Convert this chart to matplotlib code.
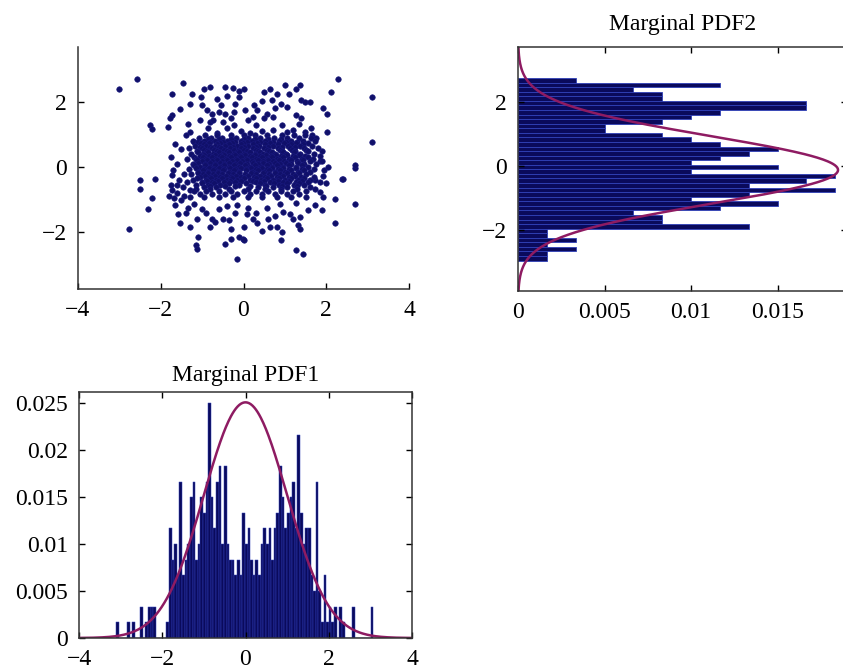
import numpy as np
import matplotlib
matplotlib.use("Agg")
import matplotlib.pyplot as plt
from matplotlib.ticker import FuncFormatter

# ---- scatter: points ----
outer_xy = [
    (-3.0, 2.42), (-2.58, 2.70), (-1.47, 2.59), (-1.73, 2.25), (-1.25, 2.25),
    (-1.03, 2.16), (-0.82, 2.46), (-0.44, 2.46), (-0.12, 2.35), (-0.64, 2.11),
    (-1.53, 1.80), (-1.29, 1.96), (-1.0, 1.91), (-0.89, 1.75), (-0.76, 1.65),
    (-0.6, 1.70), (-0.44, 1.65), (-0.24, 1.70), (-1.73, 1.60), (-1.77, 1.50),
    (-2.26, 1.29), (-2.2, 1.19), (-1.82, 1.24), (-1.33, 1.34), (-1.29, 1.09),
    (-1.2, 0.78), (-0.82, 1.39), (-0.74, 1.45), (-0.24, 1.29), (-0.64, 1.04),
    (2.29, 2.70), (3.10, 2.16), (2.11, 2.32), (1.0, 2.52), (1.36, 2.52),
    (1.28, 2.42), (0.5, 2.32), (0.8, 2.24), (1.11, 2.24), (0.68, 2.08),
    (1.40, 2.08), (1.48, 2.02), (0.76, 1.83), (1.04, 1.86), (1.91, 1.81),
    (2.03, 1.63), (0.04, 1.75), (0.32, 1.77), (0.24, 1.55), (0.56, 1.65),
    (0.72, 1.55), (1.28, 1.60), (1.40, 1.50), (1.35, 1.34), (1.49, 1.09),
    (0.92, 1.29), (0.72, 1.16), (1.04, 1.09), (2.01, 1.09), (3.10, 0.78),
    (0.16, 1.05), (1.2, 1.15), (1.62, 1.22), (2.69, -0.04),
    (-0.5, 1.4), (-0.3, 1.5), (0.1, 1.45), (0.3, 1.3), (0.45, 1.1),
    (-0.05, 1.1), (-0.4, 1.2), (-0.85, 1.2), (0.5, 1.5), (0.25, 1.9),
    (-0.2, 1.95), (-0.55, 1.9), (0.9, 1.95), (1.65, 1.0), (-1.05, 1.45),
    (-1.4, 1.0), (0.0, 2.4), (-0.1, 2.15), (0.45, 2.05), (1.6, 2.0),
    (-0.4, 2.2), (-0.95, 2.4), (-0.25, 2.45), (0.65, 2.4),
    (-2.5, -0.40), (-2.14, -0.37), (-2.5, -0.68), (-2.22, -0.96), (-2.30, -1.30),
    (-2.76, -1.91), (-1.73, -0.25), (-1.73, -0.71), (-1.68, -0.95), (-1.65, -1.17),
    (-1.58, -1.45), (-1.53, -1.73), (-1.29, -1.84), (-1.09, -2.14), (-1.15, -2.40),
    (-1.12, -2.52), (-0.16, -2.83), (-0.1, -2.14), (-0.02, -2.22), (-0.81, -1.84),
    (-0.77, -1.58), (-0.5, -1.58), (-0.36, -1.63), (-0.16, -1.17), (-1.12, -1.58),
    (-1.35, -1.27), (-1.2, -1.12), (-1.0, -1.3), (-1.45, -0.9), (-1.3, -0.7),
    (2.69, -1.12), (2.21, -0.98), (2.21, -1.73), (1.93, -0.91), (1.73, -0.66),
    (1.73, -0.40), (1.93, -0.27), (1.89, -1.32), (1.73, -1.17), (1.57, -1.32),
    (1.36, -1.53), (1.32, -1.78), (1.36, -1.89), (1.28, -2.55), (1.43, -2.66),
    (0.92, -1.99), (0.8, -1.84), (0.64, -1.84), (0.6, -1.58), (0.32, -1.73),
    (0.24, -1.58), (0.0, -1.84), (0.0, -2.25), (0.08, -1.45), (0.96, -1.37),
    (1.12, -1.45), (0.88, -1.12), (0.56, -1.25), (1.28, -1.1), (2.39, -0.37),
    (2.69, 0.06), (2.4, -0.35),
    (-1.75, 0.3), (-1.6, 0.1), (-1.7, -0.1), (-1.55, -0.4), (-1.75, -0.55),
    (-1.6, -0.8), (-1.5, 0.55), (-1.65, 0.7), (-1.45, -0.2), (-1.5, -1.0),
    (-1.8, -0.9), (-1.4, -1.4), (-0.6, -1.3), (-0.4, -1.2), (-0.2, -1.4),
    (0.1, -1.25), (0.3, -1.4), (-0.9, -1.4), (-0.7, -1.7), (0.45, -1.95),
    (-0.3, -1.9), (0.75, -1.5), (1.2, -1.6), (1.85, 0.2), (1.95, -0.1),
    (1.9, 0.5), (2.0, -0.5), (1.85, -0.75), (1.75, 0.9), (2.05, 0.0),
    (-0.45, -2.35), (-0.3, -2.2), (0.9, -2.25),
]

# dense centre, listed row by row: (y, [x, ...])
core_rows = [
    (0.98, [-0.92, -0.64, -0.31, 0.02, 0.27, 0.58, 0.93, 1.22, 1.48]),
    (0.90, [-1.08, -0.79, -0.52, -0.18, 0.12, 0.41, 0.73, 1.04, 1.33, 1.62]),
    (0.86, [-0.85, -0.6, -0.3, 0.0, 0.28, 0.6, 0.9]),
    (0.82, [-1.22, -0.95, -0.68, -0.41, -0.07, 0.21, 0.52, 0.86, 1.16, 1.44, 1.74]),
    (0.78, [-1.1, -0.8, -0.5, -0.2, 0.08, 0.4, 0.72, 1.02, 1.3]),
    (0.74, [-1.02, -0.83, -0.57, -0.29, -0.02, 0.33, 0.63, 0.97, 1.27, 1.56]),
    (0.70, [-0.95, -0.63, -0.35, -0.05, 0.22, 0.52, 0.84, 1.16, 1.45]),
    (0.66, [-1.17, -0.9, -0.7, -0.45, -0.16, 0.1, 0.38, 0.71, 1.07, 1.36, 1.66]),
    (0.62, [-1.05, -0.82, -0.6, -0.25, 0.0, 0.3, 0.6, 0.92, 1.25]),
    (0.58, [-1.31, -1.0, -0.77, -0.55, -0.33, -0.06, 0.24, 0.5, 0.83, 1.13, 1.46, 1.79]),
    (0.54, [-0.95, -0.72, -0.48, -0.22, 0.02, 0.3, 0.56, 0.88, 1.18, 1.5]),
    (0.50, [-1.12, -0.88, -0.63, -0.4, -0.13, 0.09, 0.36, 0.62, 0.93, 1.24, 1.55]),
    (0.46, [-1.1, -0.85, -0.6, -0.36, -0.1, 0.15, 0.4, 0.68, 0.96, 1.22]),
    (0.42, [-1.26, -0.97, -0.74, -0.49, -0.24, 0.01, 0.27, 0.47, 0.76, 1.03, 1.36, 1.7]),
    (0.38, [-0.95, -0.7, -0.46, -0.21, 0.04, 0.29, 0.54, 0.79, 1.06, 1.34]),
    (0.34, [-1.06, -0.83, -0.58, -0.34, -0.09, 0.16, 0.41, 0.66, 0.91, 1.19, 1.49, 1.84]),
    (0.30, [-1.2, -0.98, -0.75, -0.52, -0.3, -0.05, 0.2, 0.44, 0.7, 0.96, 1.25, 1.55]),
    (0.26, [-1.37, -1.14, -0.9, -0.66, -0.43, -0.19, 0.06, 0.31, 0.56, 0.81, 1.09, 1.41, 1.67]),
    (0.22, [-1.12, -0.88, -0.64, -0.41, -0.16, 0.09, 0.34, 0.59, 0.85, 1.14, 1.45]),
    (0.18, [-1.01, -0.76, -0.53, -0.29, -0.04, 0.21, 0.46, 0.71, 0.99, 1.29, 1.61, 1.9]),
    (0.14, [-1.1, -0.82, -0.58, -0.34, -0.08, 0.22, 0.48, 0.75, 1.02, 1.32]),
    (0.10, [-1.21, -0.93, -0.69, -0.46, -0.21, 0.09, 0.36, 0.61, 0.89, 1.16, 1.46, 1.76]),
    (0.06, [-1.2, -0.94, -0.69, -0.47, -0.24, 0.03, 0.29, 0.56, 0.82, 1.11, 1.41]),
    (0.02, [-1.06, -0.81, -0.57, -0.36, -0.11, 0.16, 0.43, 0.69, 0.96, 1.26, 1.56]),
    (-0.02, [-1.14, -0.84, -0.59, -0.33, -0.07, 0.19, 0.44, 0.69, 0.96, 1.26]),
    (-0.06, [-1.31, -0.96, -0.71, -0.46, -0.2, 0.06, 0.31, 0.56, 0.83, 1.11, 1.41, 1.71]),
    (-0.10, [-0.99, -0.74, -0.49, -0.23, 0.06, 0.35, 0.62, 0.88, 1.16, 1.46]),
    (-0.14, [-1.11, -0.86, -0.61, -0.36, -0.1, 0.21, 0.49, 0.76, 1.01, 1.31, 1.61]),
    (-0.18, [-1.11, -0.86, -0.62, -0.38, -0.12, 0.17, 0.46, 0.75, 1.04, 1.34]),
    (-0.22, [-1.26, -0.99, -0.73, -0.51, -0.26, 0.03, 0.31, 0.61, 0.89, 1.19, 1.51]),
    (-0.26, [-0.93, -0.68, -0.43, -0.18, 0.1, 0.39, 0.67, 0.95, 1.24]),
    (-0.30, [-1.06, -0.81, -0.56, -0.31, -0.06, 0.26, 0.53, 0.81, 1.09, 1.39, 1.71]),
    (-0.34, [-1.13, -0.78, -0.53, -0.28, 0.0, 0.3, 0.57, 0.86, 1.16, 1.46]),
    (-0.38, [-1.21, -0.91, -0.66, -0.41, -0.16, 0.16, 0.43, 0.71, 1.01, 1.31, 1.61]),
    (-0.42, [-0.88, -0.61, -0.33, -0.05, 0.23, 0.5, 0.83, 1.11, 1.41]),
    (-0.46, [-1.36, -1.01, -0.76, -0.46, -0.21, 0.31, 0.63, 0.96, 1.26, 1.56, 1.86]),
    (-0.50, [-1.0, -0.71, -0.36, 0.05, 0.41, 0.73, 1.05, 1.33]),
    (-0.54, [-1.61, -1.16, -0.86, -0.56, -0.11, 0.51, 0.86, 1.21, 1.46]),
    (-0.58, [-0.8, -0.45, -0.2, 0.15, 0.55, 0.92, 1.3]),
    (-0.62, [-1.46, -0.96, -0.66, 0.36, 0.71, 1.06, 1.61]),
    (-0.66, [-1.15, -0.8, -0.35, 0.12, 0.52, 0.9, 1.3]),
    (-0.72, [-1.2, -0.9, -0.6, -0.3, 0.0, 0.3, 0.6, 0.9, 1.2, 1.5]),
    (-0.82, [-1.05, -0.75, -0.45, -0.15, 0.15, 0.45, 0.75, 1.05, 1.35]),
    (-0.92, [-1.3, -0.95, -0.6, -0.25, 0.1, 0.45, 0.8, 1.15, 1.5]),
]

# ---- marginal histograms (counts per bin) ----
n_samples = 600
pdf1_range = (-3.1, 3.2)
pdf1_counts = [
    1, 0, 0, 0, 1, 0, 1, 0, 0, 2,
    0, 1, 2, 2, 2, 0, 0, 0, 0, 1,
    7, 5, 6, 4, 10, 4, 5, 6, 9, 10,
    5, 6, 9, 8, 10, 15, 9, 7, 10, 11,
    6, 11, 6, 5, 5, 4, 5, 4, 8, 6,
    7, 5, 4, 5, 4, 6, 7, 6, 7, 5,
    7, 8, 11, 9, 7, 8, 9, 10, 7, 13,
    8, 6, 7, 7, 4, 3, 10, 3, 1, 4,
    1, 2, 1, 2, 0, 2, 1, 0, 0, 0,
    2, 0, 0, 0, 0, 0, 0, 2, 0, 0,
]
pdf2_range = (-2.95, 2.75)
pdf2_counts = [
    1, 1, 2, 1, 2, 1, 1, 8, 5, 5,
    4, 7, 9, 6, 8, 11, 8, 10, 11, 6,
    9, 6, 7, 8, 9, 7, 6, 5, 3, 3,
    5, 6, 7, 10, 10, 5, 5, 4, 7, 2,
]

# fitted normal curves: (mean, sigma, peak height)
pdf1_fit = (0.0, 1.0, 0.0251)
pdf2_fit = (-0.12, 1.05, 0.0185)

bar_face = "#0a0a5c"
bar_edge = "#3040b8"
curve_col = "#8e1b62"
dot_col = "#10106a"

plt.rcParams["font.family"] = ["Liberation Serif", "DejaVu Serif"]
plt.rcParams["font.size"] = 17

fig = plt.figure(figsize=(8.43, 6.70), dpi=100)
W, H = 843.0, 670.0


def box(l, t, r, b):
    return [l / W, 1 - b / H, (r - l) / W, (b - t) / H]


# scatter
ax0 = fig.add_axes(box(78, 47, 409, 289))
sx = [p[0] for p in outer_xy]
sy = [p[1] for p in outer_xy]
for yrow, xs in core_rows:
    sx += xs
    sy += [yrow] * len(xs)
ax0.plot(sx, sy, "o", ms=4.0, color=dot_col, mec="#1a1a80", mew=0.4)
ax0.set_xlim(-4, 4)
ax0.set_ylim(-3.75, 3.7)
ax0.set_xticks([-4, -2, 0, 2, 4])
ax0.set_yticks([-2, 0, 2])
ax0.spines["top"].set_visible(False)
ax0.spines["right"].set_visible(False)

# marginal PDF2 (horizontal)
ax1 = fig.add_axes(box(518, 47, 518 + 0.019 / 0.005 * 86.5, 291))
e2 = np.linspace(pdf2_range[0], pdf2_range[1], len(pdf2_counts) + 1)
ax1.barh((e2[:-1] + e2[1:]) / 2, np.array(pdf2_counts) / n_samples,
         height=e2[1] - e2[0], color=bar_face, edgecolor=bar_edge, linewidth=0.6)
yy = np.linspace(-3.9, 3.72, 400)
m, s, pk = pdf2_fit
ax1.plot(pk * np.exp(-(yy - m) ** 2 / (2 * s ** 2)), yy, color=curve_col, lw=1.8)
ax1.set_xlim(0, 0.019)
ax1.set_ylim(-3.9, 3.72)
ax1.set_xticks([0, 0.005, 0.01, 0.015])
ax1.set_yticks([-2, 0, 2])
ax1.xaxis.set_major_formatter(FuncFormatter(lambda v, p: "%g" % v))
ax1.set_title("Marginal PDF2", fontsize=17, pad=12)

# marginal PDF1
ax2 = fig.add_axes(box(79, 392, 412, 638))
e1 = np.linspace(pdf1_range[0], pdf1_range[1], len(pdf1_counts) + 1)
ax2.bar((e1[:-1] + e1[1:]) / 2, np.array(pdf1_counts) / n_samples,
        width=e1[1] - e1[0], color=bar_face, edgecolor=bar_edge, linewidth=0.35)
xx = np.linspace(-4, 4, 400)
m, s, pk = pdf1_fit
ax2.plot(xx, pk * np.exp(-(xx - m) ** 2 / (2 * s ** 2)), color=curve_col, lw=1.8)
ax2.set_xlim(-4, 4)
ax2.set_ylim(0, 0.0262)
ax2.set_xticks([-4, -2, 0, 2, 4])
ax2.set_yticks([0, 0.005, 0.01, 0.015, 0.02, 0.025])
ax2.yaxis.set_major_formatter(FuncFormatter(lambda v, p: "%g" % v))
ax2.set_title("Marginal PDF1", fontsize=17, pad=8)

for ax in (ax0, ax1, ax2):
    for sp in ax.spines.values():
        sp.set_linewidth(1.1)
        sp.set_color("#333333")
    ax.tick_params(direction="in", length=4, width=1, pad=8)
ax1.tick_params(top=True, right=True)
ax2.tick_params(top=True, right=True)

fig.savefig("out.png", dpi=100)
